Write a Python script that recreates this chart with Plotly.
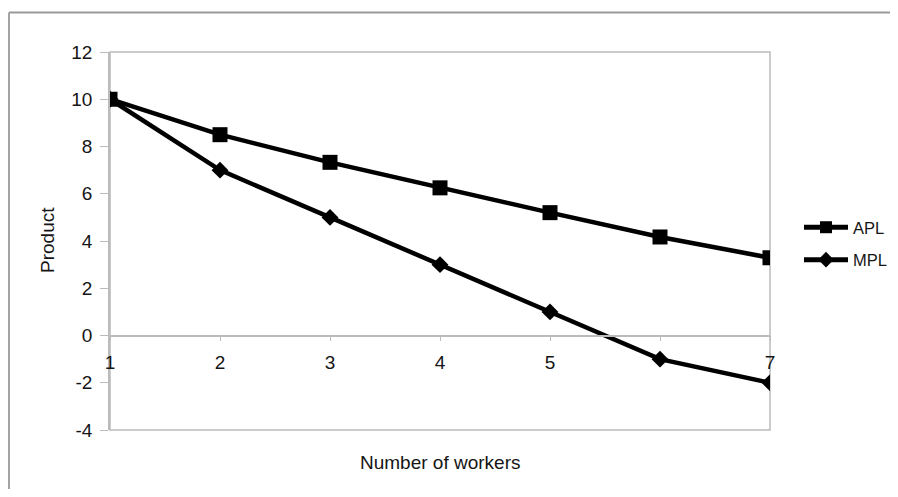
import plotly.graph_objects as go

workers = [1, 2, 3, 4, 5, 6, 7]
apl = [10, 8.5, 7.33, 6.25, 5.2, 4.17, 3.29]
mpl = [10, 7, 5, 3, 1, -1, -2]
x_tick_labels = ["1", "2", "3", "4", "5", "", "7"]
y_ticks = [-4, -2, 0, 2, 4, 6, 8, 10, 12]
y_tick_labels = ["-4", "-2", "0", "2", "4", "6", "8", "10", "12"]

FONT = "Arial, Liberation Sans, sans-serif"
TXT = "#151515"
# page body has an 8px margin on every side: keep the figure inside the window
OFF = 8
W, H = 898 - 2 * OFF, 497 - 2 * OFF
L, T = 110 - OFF, 52 - OFF
R = W - (770 - OFF)
B = H - (430 - OFF)
pw, ph = W - L - R, H - T - B

def px_x(p):
    return (p - OFF - L) / pw

def px_y(p):
    return (H - B - (p - OFF)) / ph

fig = go.Figure()
fig.add_trace(go.Scatter(
    x=workers, y=apl, name="APL", mode="lines+markers",
    line=dict(color="black", width=4.5),
    marker=dict(symbol="square", size=15, color="black"),
    legendgroup="a",
))
fig.add_trace(go.Scatter(
    x=workers, y=mpl, name="MPL", mode="lines+markers",
    line=dict(color="black", width=4.5),
    marker=dict(symbol="diamond", size=13, color="black"),
    legendgroup="b",
))

fig.update_layout(
    width=W, height=H, autosize=False,
    margin=dict(l=L, r=R, t=T, b=B, autoexpand=False),
    paper_bgcolor="white", plot_bgcolor="white",
    font=dict(family=FONT, size=18, color=TXT),
    showlegend=True,
    legend=dict(x=px_x(799), y=px_y(210), xanchor="left", yanchor="top",
                font=dict(size=16.5, family=FONT, color=TXT),
                tracegroupgap=8, itemsizing="constant", itemwidth=44,
                bgcolor="rgba(0,0,0,0)"),
    xaxis=dict(
        range=[1, 7], tickvals=workers, ticktext=x_tick_labels,
        anchor="free", position=0.25,
        showline=True, linecolor="#BBBBBB", linewidth=1.5,
        ticks="outside", ticklen=5, tickcolor="#BBBBBB",
        ticklabelstandoff=5,
        showgrid=False, zeroline=False,
        tickfont=dict(size=19, family=FONT, color=TXT),
    ),
    yaxis=dict(
        range=[-4, 12], tickvals=y_ticks, ticktext=y_tick_labels,
        showline=True, linecolor="#BBBBBB", linewidth=1.5,
        ticks="outside", ticklen=8, tickcolor="#BBBBBB",
        ticklabelstandoff=4,
        showgrid=False, zeroline=False,
        tickfont=dict(size=19, family=FONT, color=TXT),
    ),
    shapes=[
        dict(type="rect", xref="paper", yref="paper", x0=0, x1=1, y0=0, y1=1,
             line=dict(color="#BBBBBB", width=1.5), layer="below"),
        dict(type="line", xref="paper", yref="paper",
             x0=px_x(9), x1=px_x(898), y0=px_y(12.5), y1=px_y(12.5),
             line=dict(color="#999999", width=1.8)),
        dict(type="line", xref="paper", yref="paper",
             x0=px_x(9), x1=px_x(9), y0=px_y(12.5), y1=px_y(497),
             line=dict(color="#999999", width=1.8)),
    ],
    annotations=[
        dict(text="Number of workers", xref="paper", yref="paper",
             x=0.5, y=px_y(463), xanchor="center", yanchor="middle",
             showarrow=False, font=dict(size=19, family=FONT, color=TXT)),
        dict(text="Product", xref="paper", yref="paper", textangle=-90,
             x=px_x(47), y=px_y(240), xanchor="center", yanchor="middle",
             showarrow=False, font=dict(size=19, family=FONT, color=TXT)),
    ],
)

fig.write_html("out.html")
